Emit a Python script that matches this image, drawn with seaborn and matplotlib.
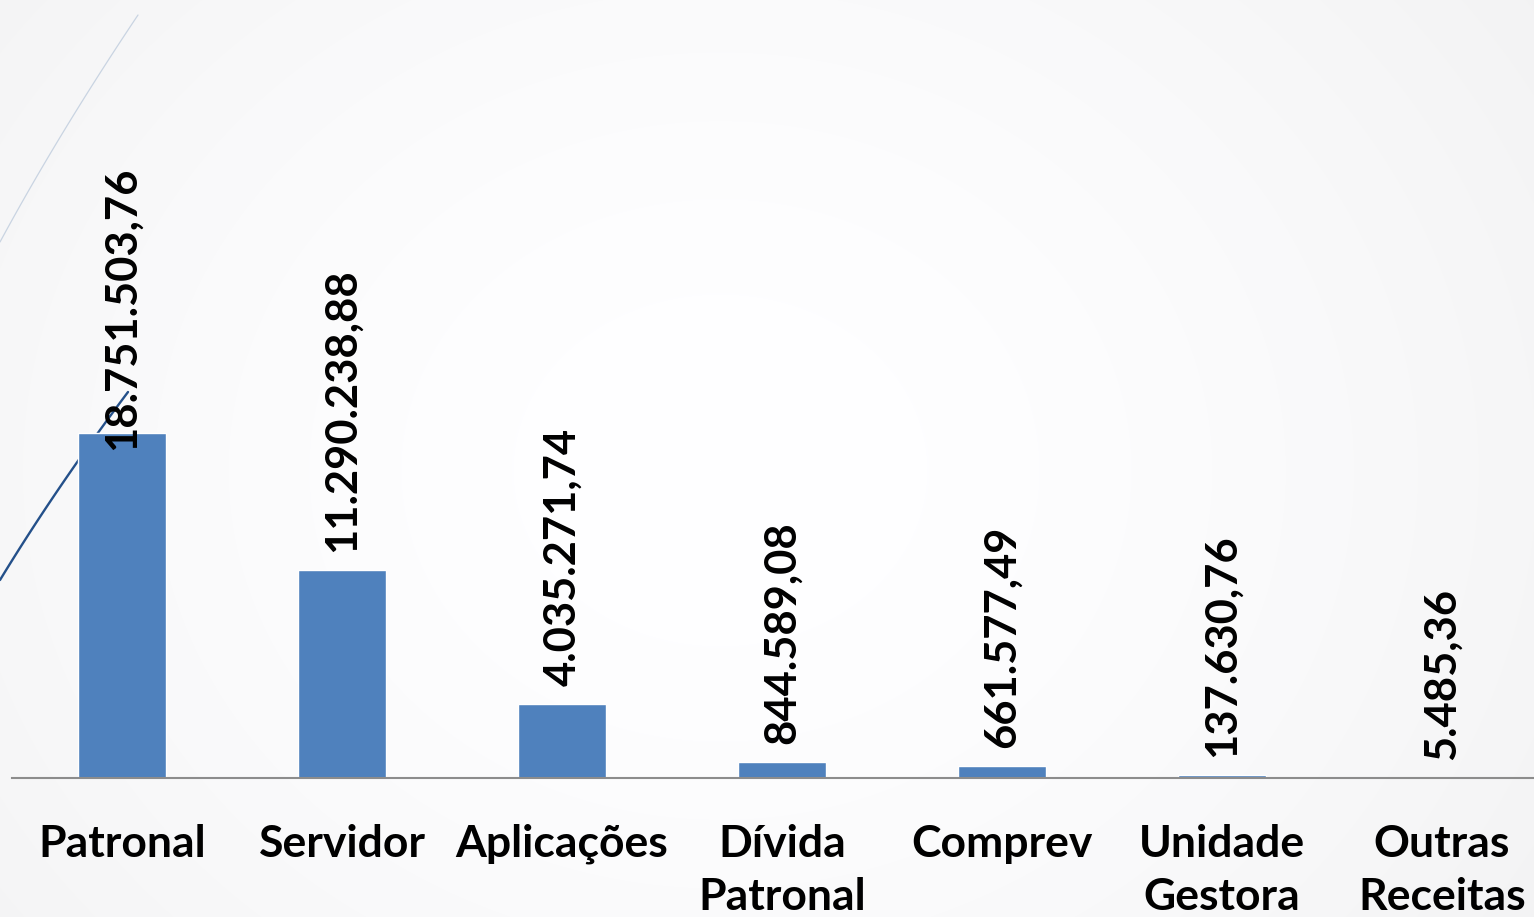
import matplotlib
matplotlib.use('Agg')
import numpy as np
import matplotlib.pyplot as plt
import seaborn as sns

# dados
categorias = ['Patronal', 'Servidor', 'Aplicações', 'Dívida\nPatronal',
              'Comprev', 'Unidade\nGestora', 'Outras\nReceitas']
valores = [18751503.76, 11290238.88, 4035271.74, 844589.08,
           661577.49, 137630.76, 5485.36]

sns.set_style('white')
plt.rcParams['font.family'] = ['Lato', 'DejaVu Sans']
plt.rcParams['axes.unicode_minus'] = False

W, H = 1534, 917
fig = plt.figure(figsize=(W / 100, H / 100), dpi=100)

# fundo com gradiente radial bem suave
bg = fig.add_axes([0, 0, 1, 1], zorder=0)
yy, xx = np.mgrid[0:H, 0:W]
r = np.hypot((xx - 720) / 1.0, (yy - 470) / 0.85) / 950
shade = 1 - 0.045 * np.clip(r, 0, 1.3) ** 1.6
img = np.dstack([shade, shade, shade * 1.004]).clip(0, 1)
bg.imshow(img, extent=(0, W, H, 0), aspect='auto')
bg.set_xlim(0, W)
bg.set_ylim(H, 0)
bg.axis('off')

# linhas decorativas do tema
def curva(p0, c, p2, n=60):
    t = np.linspace(0, 1, n)[:, None]
    pts = (1 - t) ** 2 * np.array(p0) + 2 * (1 - t) * t * np.array(c) + t ** 2 * np.array(p2)
    return pts[:, 0], pts[:, 1]

x1, y1 = curva((138, 15), (59, 133), (0, 242))
bg.plot(x1, y1, color='#c9d4e2', lw=0.9)
x2, y2 = curva((128, 392), (56, 488), (0, 580))
bg.plot(x2, y2, color='#24508a', lw=1.7)

# gráfico de barras
ax = fig.add_axes([12 / W, (H - 778) / H, 1540 / W, 778 / H], zorder=1)
ax.patch.set_alpha(0)
sns.barplot(x=categorias, y=valores, color='#4F81BD', saturation=1,
            width=0.4, ax=ax)
ax.set_xlim(-0.5, 6.5)
ax.set_ylim(0, 4.229e7)

for lado in ['top', 'right', 'left']:
    ax.spines[lado].set_visible(False)
ax.spines['bottom'].set_color('#8c8c8c')
ax.spines['bottom'].set_linewidth(1.5)
ax.set_yticks([])
ax.set_ylabel('')
ax.tick_params(axis='x', length=0, pad=33)
for lbl in ax.get_xticklabels():
    lbl.set_fontsize(32)
    lbl.set_fontweight('bold')
    lbl.set_color('black')
    lbl.set_linespacing(1.4)


def formato_br(v):
    return f'{v:,.2f}'.replace(',', 'X').replace('.', ',').replace('X', '.')


# rótulos de valor (o primeiro foi deslocado para baixo no original)
for i, v in enumerate(valores):
    desloc = -12 if i == 0 else 13
    ax.annotate(formato_br(v), xy=(i, v), xytext=(0, desloc),
                textcoords='offset points', rotation=90,
                ha='center', va='bottom', fontsize=31.3,
                fontweight='bold', color='black')

fig.savefig('out.png', dpi=100)
